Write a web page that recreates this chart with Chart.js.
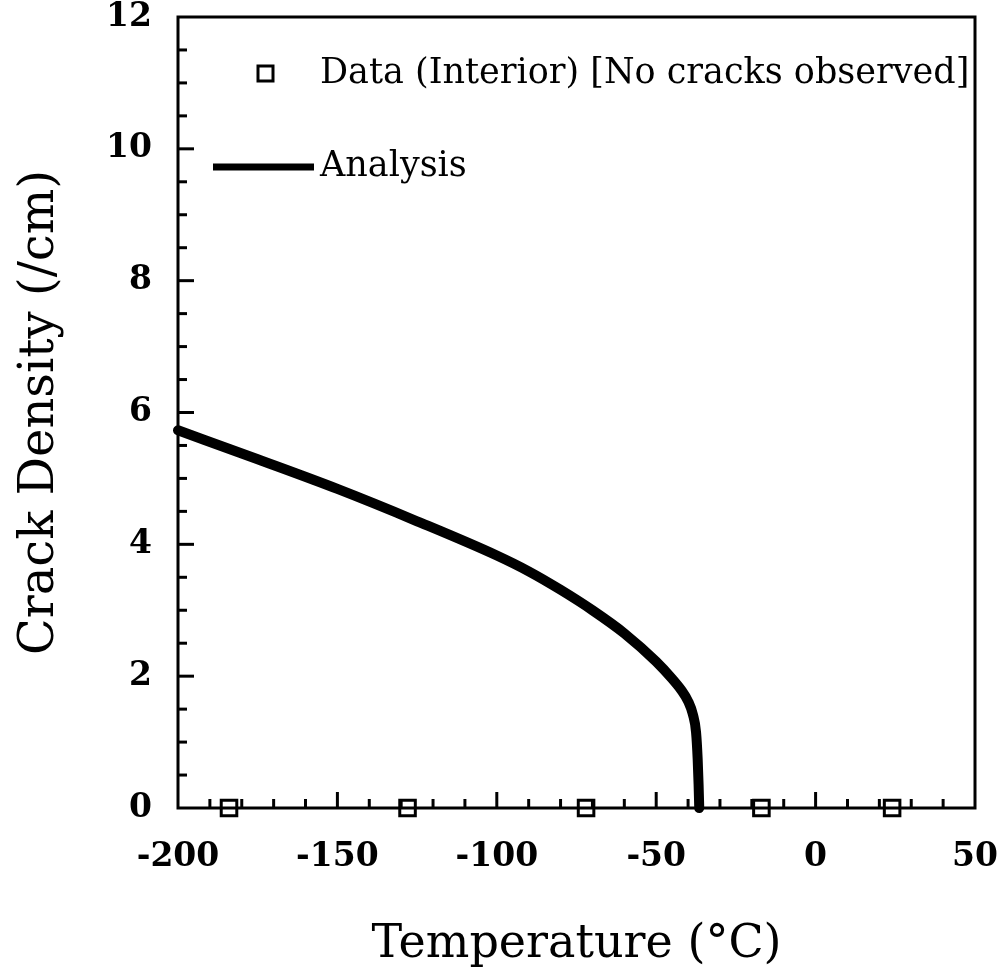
<!DOCTYPE html>
<html>
<head>
<meta charset="utf-8">
<script src="https://cdn.jsdelivr.net/npm/chart.js@4.4.0/dist/chart.umd.min.js"></script>
<style>
  html, body { margin: 0; padding: 0; background: #fff; }
  #wrap { width: 1001px; height: 968px; }
</style>
</head>
<body>
<div id="wrap"><canvas id="crackChart" width="1001" height="968"></canvas></div>
<script>
// --- data ---
const dataTemps = [-184, -128, -72, -17, 24];
const dataDensity = [0, 0, 0, 0, 0];

const analysisTemps = [-200, -175, -150, -125, -100, -90, -80, -70, -60, -50, -45, -42, -40, -38.5, -37.5, -37, -36.7, -36.5];
const analysisDensity = [5.73, 5.29, 4.84, 4.35, 3.83, 3.59, 3.31, 3.00, 2.65, 2.22, 1.96, 1.78, 1.62, 1.42, 1.15, 0.75, 0.35, 0];

const xTicks = [-200, -150, -100, -50, 0, 50];
const yTicks = [0, 2, 4, 6, 8, 10, 12];

const dataLabel = "Data (Interior) [No cracks observed]";
const analysisLabel = "Analysis";

const serif = "'DejaVu Serif', 'Liberation Serif', serif";

function toPoints(xs, ys) {
  return xs.map((x, i) => ({ x: x, y: ys[i] }));
}

// keep the plot box where the figure has it
function fixScale(scale, size) {
  if (scale.isHorizontal()) scale.height = size; else scale.width = size;
  scale.paddingTop = 0;
  scale.paddingBottom = 0;
  scale.paddingLeft = 0;
  scale.paddingRight = 0;
}

// --- box, inward ticks and legend ---
const framePlugin = {
  id: 'frame',
  afterDraw(chart) {
    const c = chart.ctx;
    const a = chart.chartArea;
    const xs = chart.scales.x;
    const ys = chart.scales.y;
    c.save();
    c.strokeStyle = '#000';
    c.lineWidth = 3;
    c.strokeRect(a.left, a.top, a.right - a.left, a.bottom - a.top);

    for (let v = -190; v < 50; v += 10) {
      const px = xs.getPixelForValue(v);
      const len = v % 50 === 0 ? 16 : 9;
      c.beginPath();
      c.moveTo(px, a.bottom);
      c.lineTo(px, a.bottom - len);
      c.stroke();
    }
    for (let v = 0.5; v < 12; v += 0.5) {
      const py = ys.getPixelForValue(v);
      const len = v % 2 === 0 ? 16 : 9;
      c.beginPath();
      c.moveTo(a.left, py);
      c.lineTo(a.left + len, py);
      c.stroke();
    }

    // legend
    c.font = "35px " + serif;
    c.textBaseline = 'middle';
    c.textAlign = 'left';
    c.lineWidth = 3;
    c.fillStyle = '#fff';
    c.fillRect(a.left + 80, a.top + 49, 15, 15);
    c.strokeRect(a.left + 80, a.top + 49, 15, 15);
    c.fillStyle = '#000';
    c.fillText(dataLabel, a.left + 142, a.top + 57);

    c.lineWidth = 7;
    c.beginPath();
    c.moveTo(a.left + 35, a.top + 150);
    c.lineTo(a.left + 136, a.top + 150);
    c.stroke();
    c.fillText(analysisLabel, a.left + 142, a.top + 150);
    c.restore();
  }
};

const ctx = document.getElementById("crackChart").getContext("2d");
const crackChart = new Chart(ctx, {
  type: 'scatter',
  data: {
    datasets: [
      {
        label: analysisLabel,
        data: toPoints(analysisTemps, analysisDensity),
        showLine: true,
        borderColor: '#000',
        borderWidth: 10,
        pointRadius: 0,
        cubicInterpolationMode: 'monotone',
        borderCapStyle: 'round',
        clip: false
      },
      {
        label: dataLabel,
        data: toPoints(dataTemps, dataDensity),
        showLine: false,
        pointStyle: 'rect',
        pointRadius: 11,
        borderColor: '#000',
        backgroundColor: '#fff',
        borderWidth: 3,
        clip: false
      }
    ]
  },
  options: {
    responsive: false,
    animation: false,
    layout: { padding: { top: 17, right: 26, left: 0, bottom: 0 } },
    plugins: {
      legend: { display: false },
      tooltip: { enabled: false }
    },
    scales: {
      x: {
        type: 'linear',
        min: -200,
        max: 50,
        afterBuildTicks: (scale) => { scale.ticks = xTicks.map(v => ({ value: v })); },
        afterFit: (scale) => fixScale(scale, 160),
        grid: { display: false, drawTicks: false },
        border: { display: false },
        ticks: {
          color: '#000',
          padding: 30,
          maxRotation: 0,
          font: { family: serif, size: 33, weight: 'bold' }
        },
        title: {
          display: true,
          text: 'Temperature (°C)',
          color: '#000',
          padding: { top: 20, bottom: 0 },
          font: { family: serif, size: 46, lineHeight: 1 }
        }
      },
      y: {
        type: 'linear',
        min: 0,
        max: 12,
        afterBuildTicks: (scale) => { scale.ticks = yTicks.map(v => ({ value: v })); },
        afterFit: (scale) => fixScale(scale, 178),
        grid: { display: false, drawTicks: false },
        border: { display: false },
        ticks: {
          color: '#000',
          padding: 26,
          font: { family: serif, size: 33, weight: 'bold' }
        },
        title: {
          display: true,
          text: 'Crack Density (/cm)',
          color: '#000',
          padding: { top: 12, bottom: 0 },
          font: { family: serif, size: 48 }
        }
      }
    }
  },
  plugins: [framePlugin]
});
</script>
</body>
</html>
